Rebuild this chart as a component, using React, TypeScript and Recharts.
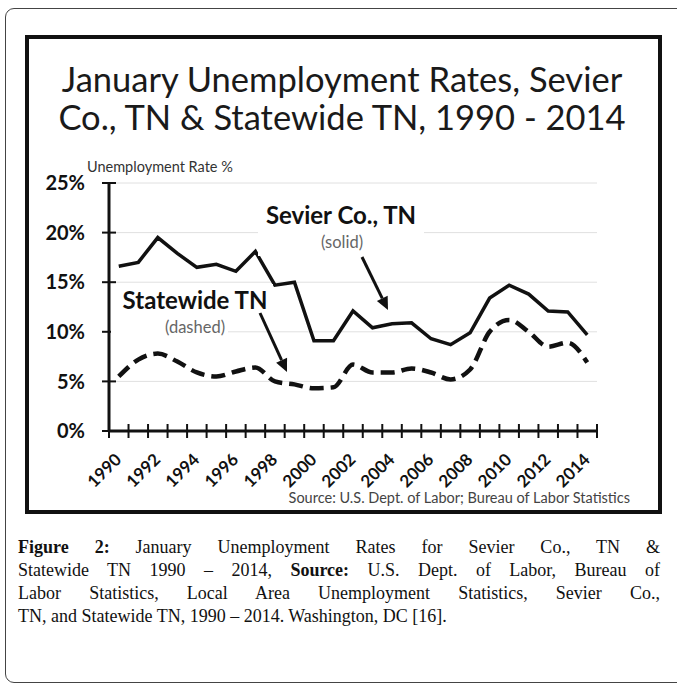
import React from 'react';
import { LineChart, Line, XAxis, YAxis, CartesianGrid } from 'recharts';

const years = [1990, 1991, 1992, 1993, 1994, 1995, 1996, 1997, 1998, 1999, 2000, 2001, 2002, 2003, 2004, 2005, 2006, 2007, 2008, 2009, 2010, 2011, 2012, 2013, 2014];
const sevierRates = [16.6, 17.0, 19.5, 17.9, 16.5, 16.8, 16.1, 18.1, 14.7, 15.0, 9.1, 9.1, 12.1, 10.4, 10.8, 10.9, 9.3, 8.7, 9.9, 13.4, 14.7, 13.8, 12.1, 12.0, 9.7];
const statewideRates = [5.5, 7.2, 7.8, 7.0, 5.9, 5.5, 6.0, 6.4, 5.0, 4.7, 4.3, 4.4, 6.7, 5.9, 5.9, 6.3, 5.9, 5.2, 6.2, 10.0, 11.2, 10.0, 8.5, 8.9, 6.9];
const yTicks = [0, 5, 10, 15, 20, 25];
const xLabelYears = [1990, 1992, 1994, 1996, 1998, 2000, 2002, 2004, 2006, 2008, 2010, 2012, 2014];

const titleLines = ['January Unemployment Rates, Sevier', 'Co., TN & Statewide TN, 1990 - 2014'];
const yAxisTitle = 'Unemployment Rate %';
const sevierLabel = 'Sevier Co., TN';
const sevierNote = '(solid)';
const stateLabel = 'Statewide TN';
const stateNote = '(dashed)';
const sourceText = 'Source:  U.S. Dept. of Labor; Bureau of Labor Statistics';

const data = years.map((year, i) => ({ year, sevier: sevierRates[i], statewide: statewideRates[i] }));
const boundaryTicks = [...years.map((y) => y - 0.5), years[years.length - 1] + 0.5];
const xDomain = [years[0] - 0.5, years[years.length - 1] + 0.5];

const FONT = 'Lato, "Open Sans", sans-serif';

const BoundaryTick = (props: any) => {
  const { x, y } = props;
  return <line x1={x} x2={x} y1={y - 7} y2={y + 7} stroke="#111" strokeWidth={2} />;
};

const YearLabel = (props: any) => {
  const { x, y, payload } = props;
  const tx = x - 5;
  const ty = y + 20;
  return (
    <text
      x={tx}
      y={ty}
      dy="0.72em"
      textAnchor="end"
      transform={`rotate(-45, ${tx}, ${ty})`}
      fontFamily={FONT}
      fontWeight={700}
      fontSize={17}
      fill="#111"
    >
      {payload.value}
    </text>
  );
};

const YTick = (props: any) => {
  const { x, y, payload } = props;
  return (
    <g>
      <line x1={x - 7} x2={x + 7} y1={y} y2={y} stroke="#111" strokeWidth={2} />
      <text x={x - 24} y={y} dy="0.36em" textAnchor="end" fontFamily={FONT} fontWeight={700} fontSize={20} fill="#111">
        {payload.value}%
      </text>
    </g>
  );
};

function Arrow({ x1, y1, x2, y2 }: { x1: number; y1: number; x2: number; y2: number }) {
  const dx = x2 - x1;
  const dy = y2 - y1;
  const len = Math.sqrt(dx * dx + dy * dy);
  const ux = dx / len;
  const uy = dy / len;
  const hl = 13;
  const hw = 6;
  const bx = x2 - ux * hl;
  const by = y2 - uy * hl;
  const pts = `${x2},${y2} ${bx - uy * hw},${by + ux * hw} ${bx + uy * hw},${by - ux * hw}`;
  return (
    <g>
      <line x1={x1} y1={y1} x2={bx} y2={by} stroke="#111" strokeWidth={3} />
      <polygon points={pts} fill="#111" />
    </g>
  );
}

export default function App() {
  return (
    <div style={{ position: 'absolute', left: 0, top: 0, width: 677, height: 686, background: '#fff', overflow: 'hidden' }}>
      <div
        style={{
          position: 'absolute',
          left: 5,
          top: 8,
          width: 690,
          height: 675,
          border: '1.5px solid #444',
          borderRadius: 9,
          boxSizing: 'border-box',
        }}
      />
      <div
        style={{
          position: 'absolute',
          left: 25,
          top: 35,
          width: 637,
          height: 479,
          border: '4px solid #111',
          boxSizing: 'border-box',
        }}
      />
      <div style={{ position: 'absolute', left: 27, top: 37 }}>
        <LineChart width={633} height={475} data={data} margin={{ top: 146, right: 63, bottom: 20, left: 22 }}>
          <CartesianGrid vertical={false} stroke="#e0e0e0" strokeWidth={1} />
          <XAxis
            xAxisId="bounds"
            dataKey="year"
            type="number"
            domain={xDomain}
            ticks={boundaryTicks}
            interval={0}
            height={1}
            tickSize={0}
            tickMargin={0}
            tickLine={false}
            axisLine={{ stroke: '#111', strokeWidth: 3 }}
            tick={<BoundaryTick />}
            allowDataOverflow
          />
          <XAxis
            xAxisId="labels"
            dataKey="year"
            type="number"
            domain={xDomain}
            ticks={xLabelYears}
            interval={0}
            height={60}
            tickSize={0}
            tickMargin={0}
            tickLine={false}
            axisLine={false}
            tick={<YearLabel />}
            allowDataOverflow
          />
          <YAxis
            domain={[0, 25]}
            ticks={yTicks}
            interval={0}
            width={60}
            tickSize={0}
            tickMargin={0}
            tickLine={false}
            axisLine={{ stroke: '#111', strokeWidth: 3 }}
            tick={<YTick />}
          />
          <Line
            xAxisId="bounds"
            type="linear"
            dataKey="sevier"
            stroke="#111"
            strokeWidth={3.5}
            dot={false}
            isAnimationActive={false}
          />
          <Line
            xAxisId="bounds"
            type="monotone"
            dataKey="statewide"
            stroke="#111"
            strokeWidth={4.5}
            strokeDasharray="14 7"
            dot={false}
            isAnimationActive={false}
          />
        </LineChart>
      </div>
      <svg width={677} height={686} style={{ position: 'absolute', left: 0, top: 0, pointerEvents: 'none' }}>
        <text x={342} y={80} dy="0.36em" textAnchor="middle" fontFamily={FONT} fontSize={34.5} fill="#1a1a1a">
          {titleLines[0]}
        </text>
        <text x={342} y={118} dy="0.36em" textAnchor="middle" fontFamily={FONT} fontSize={34.5} fill="#1a1a1a">
          {titleLines[1]}
        </text>
        <rect x={111} y={174} width={126} height={7} fill="#fff" />
        <text x={87} y={167} dy="0.36em" fontFamily={FONT} fontSize={14.5} fill="#333">
          {yAxisTitle}
        </text>
        <rect x={258} y={200} width={166} height={56} fill="#fff" />
        <text x={341} y={215} dy="0.36em" textAnchor="middle" fontFamily={FONT} fontWeight={700} fontSize={24} fill="#111">
          {sevierLabel}
        </text>
        <text x={342} y={242} dy="0.36em" textAnchor="middle" fontFamily={FONT} fontSize={16.5} fill="#666">
          {sevierNote}
        </text>
        <rect x={111} y={284} width={162} height={12} fill="#fff" />
        <rect x={111} y={286} width={117} height={52} fill="#fff" />
        <text x={195} y={300} dy="0.36em" textAnchor="middle" fontFamily={FONT} fontWeight={700} fontSize={24} fill="#111">
          {stateLabel}
        </text>
        <text x={195} y={327} dy="0.36em" textAnchor="middle" fontFamily={FONT} fontSize={16.5} fill="#666">
          {stateNote}
        </text>
        <Arrow x1={362} y1={257} x2={388} y2={310} />
        <Arrow x1={260} y1={313} x2={287} y2={372} />
        <text x={630} y={498} dy="0.36em" textAnchor="end" fontFamily={FONT} fontSize={14.5} fill="#444">
          {sourceText}
        </text>
      </svg>
      <div
        style={{
          position: 'absolute',
          left: 18,
          top: 536,
          width: 642,
          fontFamily: '"Liberation Serif", "DejaVu Serif", serif',
          fontSize: 18,
          lineHeight: '23px',
          color: '#111',
          whiteSpace: 'nowrap',
        }}
      >
        <div style={{ textAlign: 'justify', textAlignLast: 'justify' }}>
          <b>Figure 2:</b> January Unemployment Rates for Sevier Co., TN &amp;
        </div>
        <div style={{ textAlign: 'justify', textAlignLast: 'justify' }}>
          Statewide TN 1990 – 2014, <b>Source:</b> U.S. Dept. of Labor, Bureau of
        </div>
        <div style={{ textAlign: 'justify', textAlignLast: 'justify' }}>
          Labor Statistics, Local Area Unemployment Statistics, Sevier Co.,
        </div>
        <div>TN, and Statewide TN, 1990 – 2014. Washington, DC [16].</div>
      </div>
    </div>
  );
}
